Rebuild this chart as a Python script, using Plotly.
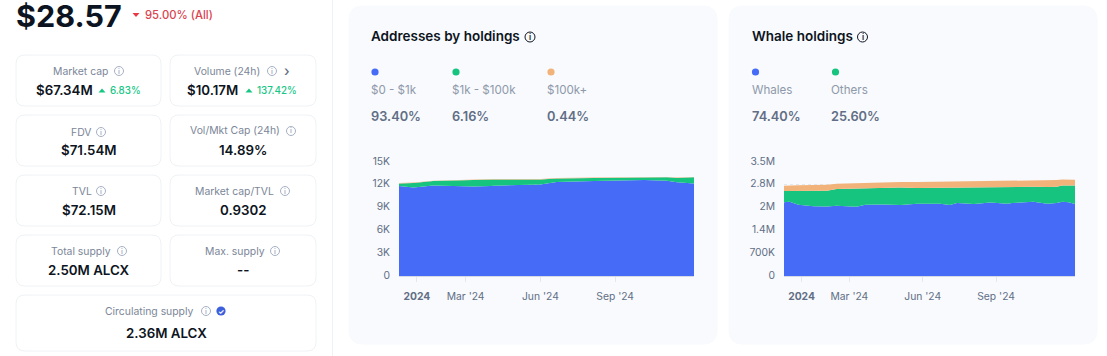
import plotly.graph_objects as go

# ---------- data ----------
addr_dates = ["2023-12-10","2023-12-28","2024-01-21","2024-03-11","2024-04-01","2024-04-04","2024-06-01","2024-06-21","2024-08-06","2024-10-07","2024-11-04","2024-11-16","2024-12-07"]
addr_low = [11830,11650,11920,11790,11850,11880,12050,12360,12490,12620,12540,12320,12180]
addr_mid = [350,590,570,880,890,830,660,480,400,360,440,570,800]
addr_high = [55,55,55,56,56,56,56,57,57,57,57,57,57]
addr_ticks = [0,3000,6000,9000,12000,15000]
addr_tick_text = ["0","3K","6K","9K","12K","15K"]

whale_dates = ["2023-12-10","2023-12-17","2023-12-28","2024-01-16","2024-02-02","2024-02-14","2024-03-10","2024-03-21","2024-04-13","2024-05-04","2024-05-25","2024-06-23","2024-07-05","2024-07-14","2024-08-04","2024-08-25","2024-09-15","2024-09-21","2024-10-18","2024-11-04","2024-11-16","2024-11-23","2024-12-01","2024-12-09"]
whale_blue = [2.268,2.279,2.186,2.145,2.135,2.155,2.125,2.186,2.196,2.176,2.217,2.217,2.176,2.238,2.207,2.258,2.217,2.238,2.279,2.217,2.238,2.279,2.268,2.207]
whale_green_top = [2.607,2.607,2.612,2.612,2.617,2.669,2.679,2.680,2.689,2.720,2.699,2.710,2.712,2.715,2.720,2.730,2.730,2.730,2.740,2.730,2.740,2.782,2.782,2.782]
whale_orange_top = [2.771,2.780,2.785,2.795,2.802,2.833,2.853,2.860,2.874,2.884,2.884,2.894,2.900,2.905,2.915,2.925,2.930,2.930,2.935,2.935,2.946,2.966,2.966,2.956]
whale_ticks = [0,0.7,1.4,2.1,2.8,3.5]
whale_tick_text = ["0","700K","1.4M","2M","2.8M","3.5M"]
whale_green = [round(t-b,3) for t,b in zip(whale_green_top,whale_blue)]
whale_orange = [round(t-b,3) for t,b in zip(whale_orange_top,whale_green_top)]

x_ticks = ["2024-01-01","2024-03-01","2024-06-01","2024-09-01"]
x_tick_text = ["<b>2024</b>","Mar '24","Jun '24","Sep '24"]

# ---------- style ----------
W, H = 1107, 356
FONT = "Inter"
BLUE, GREEN, ORANGE = "#466bf6", "#16c47f", "#f2b37b"
DARK, GREY, MID, BORDER, PANEL = "#0d1421", "#7b8698", "#616e85", "#eff2f5", "#f8fafd"
px = lambda x: x / W
py = lambda y: 1 - y / H

shapes, notes = [], []

def text(x, y, s, size=12, color=DARK, weight=400, anchor="left"):
    if anchor == "left":
        x -= 1.2
    notes.append(dict(x=px(x), y=py(y), xref="paper", yref="paper", text=s, showarrow=False,
                      xanchor=anchor, yanchor="middle", borderpad=0,
                      font=dict(family=FONT, size=size, color=color, weight=weight)))

def rrect(x0, y0, x1, y1, r, fill, line=None):
    a, b, c, d = px(x0), px(x1), py(y0), py(y1)
    rx, ry = r / W, r / H
    path = (f"M {a+rx} {c} L {b-rx} {c} Q {b} {c} {b} {c-ry} L {b} {d+ry} Q {b} {d} {b-rx} {d} "
            f"L {a+rx} {d} Q {a} {d} {a} {d+ry} L {a} {c-ry} Q {a} {c} {a+rx} {c} Z")
    shapes.append(dict(type="path", path=path, xref="paper", yref="paper", layer="below",
                       fillcolor=fill, line=dict(color=line or fill, width=1)))

def dot(x, y, r, fill, line=None, width=0):
    shapes.append(dict(type="circle", xref="paper", yref="paper", x0=px(x-r), x1=px(x+r),
                       y0=py(y+r), y1=py(y-r), fillcolor=fill, line=dict(color=line or fill, width=width)))

def info(x, y, color="#a6b0c3", r=4.5, tcolor=None):
    dot(x, y, r, "rgba(0,0,0,0)", color, 1)
    text(x, y, "i", size=7 if r < 5 else 8, color=tcolor or color, weight=600, anchor="center")

def tri(x, y, up, color):
    s = 1 if up else -1
    path = f"M {px(x-3.5)} {py(y+s*2)} L {px(x+3.5)} {py(y+s*2)} L {px(x)} {py(y-s*2)} Z"
    shapes.append(dict(type="path", path=path, xref="paper", yref="paper", fillcolor=color, line=dict(width=0)))

# page furniture
shapes.append(dict(type="line", xref="paper", yref="paper", x0=px(332.5), x1=px(332.5), y0=0, y1=1,
                   line=dict(color=BORDER, width=1)))
rrect(349, 6, 717, 344, 14, PANEL)
rrect(729, 6, 1097, 344, 14, PANEL)
for box in [(16,55,161,106),(170,55,316,106),(16,115,161,166),(170,115,316,166),
            (16,175,161,226),(170,175,316,226),(16,235,161,286),(170,235,316,286),(16,295,316,351)]:
    rrect(*box, 9, "#ffffff", BORDER)

# price head
text(16, 15, "$28.57", size=30.5, weight=700)
tri(136, 15, False, "#ea3943")
text(145, 15, "95.00% (All)", size=11.3, color="#d9434f", weight=500)

# stat cards: label, label x, icon x, label y
for lab, lx, ix, ly in [("Market cap",53,119,71),("Volume (24h)",194,272,71),("FDV",71,101,132),
                        ("Vol/Mkt Cap (24h)",190,291,131),("TVL",72,101,191),("Market cap/TVL",195,285,191),
                        ("Total supply",51,122,251),("Max. supply",205,275,251),("Circulating supply",105,206,311)]:
    text(lx, ly, lab, size=10.4, color=GREY)
    info(ix, ly)
text(284, 70.5, "›", size=14, color=MID, weight=500)
dot(221, 311, 4.6, "#3d5fdc")
text(221, 311, "✓", size=7, color="#ffffff", weight=700, anchor="center")

text(36.5, 90, "$67.34M", size=13.3, weight=600)
tri(102, 90.5, True, "#16c784")
text(110, 90.5, "6.83%", size=9.8, color="#16c784", weight=500)
text(187.5, 90, "$10.17M", size=13.3, weight=600)
tri(249, 90.5, True, "#16c784")
text(257, 90.5, "137.42%", size=9.8, color="#16c784", weight=500)
for x, y, s in [(89,150,"$71.54M"),(243,150,"14.89%"),(89,210,"$72.15M"),(243,210,"0.9302"),
                (89,270,"2.50M ALCX"),(243,270,"--"),(166,333,"2.36M ALCX")]:
    text(x, y, s, size=13.3, weight=600, anchor="center")

# panel headers and legends
text(371.5, 36, "Addresses by holdings", size=13.5, weight=600)
info(530, 37, color=DARK, r=5, tcolor=DARK)
text(752, 36, "Whale holdings", size=13.5, weight=600)
info(862.5, 37, color=DARK, r=5, tcolor=DARK)
for dx, tx, col, lab, pct in [(375,371.5,BLUE,"$0 - $1k","93.40%"),(456,452.5,GREEN,"$1k - $100k","6.16%"),
                              (551,547.5,ORANGE,"$100k+","0.44%"),(755.5,752,BLUE,"Whales","74.40%"),
                              (835.5,831.5,GREEN,"Others","25.60%")]:
    dot(dx, 72, 3.6, col)
    text(tx, 90, lab, size=11.6, color="#8f99aa")
    text(tx, 116, pct, size=12.8, color=MID, weight=600)

# ---------- chart ----------
fig = go.Figure()
def area(x, y, col, name, xa, ya):
    fig.add_trace(go.Scatter(x=x, y=y, name=name, mode="lines", stackgroup=ya, line=dict(width=0, color=col),
                             fillcolor=col, xaxis=xa, yaxis=ya, showlegend=False))

area(addr_dates, addr_low, BLUE, "$0 - $1k", "x", "y")
area(addr_dates, addr_mid, GREEN, "$1k - $100k", "x", "y")
area(addr_dates, addr_high, ORANGE, "$100k+", "x", "y")
area(whale_dates, whale_blue, BLUE, "Whales", "x2", "y2")
area(whale_dates, whale_green, GREEN, "Others", "x2", "y2")
area(whale_dates, whale_orange, ORANGE, "Rest", "x2", "y2")

def xaxis(x0, x1, rng):
    return dict(domain=[px(x0), px(x1)], range=rng, type="date", tickvals=x_ticks, ticktext=x_tick_text,
                ticks="outside", ticklen=5, tickcolor="#e3e7ee", showgrid=False, zeroline=False,
                showline=True, linecolor="#d5dbe6", linewidth=1, ticklabelstandoff=6,
                tickfont=dict(family=FONT, size=10.3, color=MID))
def yaxis(anchor, vals, labels, top):
    return dict(domain=[py(276), py(162)], range=[0, top], anchor=anchor, tickvals=vals, ticktext=labels,
                showgrid=True, gridcolor="#e3e7ee", griddash="dot", gridwidth=1, zeroline=False, ticks="",
                showline=False, ticklabelstandoff=8, ticklabelshift=-1,
                tickfont=dict(family=FONT, size=10.3, color=MID))

fig.update_layout(
    width=W, height=H, margin=dict(l=0, r=0, t=0, b=0, autoexpand=False), autosize=False,
    paper_bgcolor="#ffffff", plot_bgcolor="rgba(0,0,0,0)", showlegend=False,
    font=dict(family=FONT), shapes=shapes, annotations=notes,
    xaxis=xaxis(399, 694, ["2023-12-10", "2024-12-07"]),
    yaxis=yaxis("x", addr_ticks, addr_tick_text, 15000),
    xaxis2=xaxis(784, 1075, ["2023-12-10", "2024-12-09"]),
    yaxis2=yaxis("x2", whale_ticks, whale_tick_text, 3.5),
)
fig.write_html("out.html", config=dict(displayModeBar=False),
               post_script="document.body.style.margin='0';document.body.style.overflow='hidden';")
